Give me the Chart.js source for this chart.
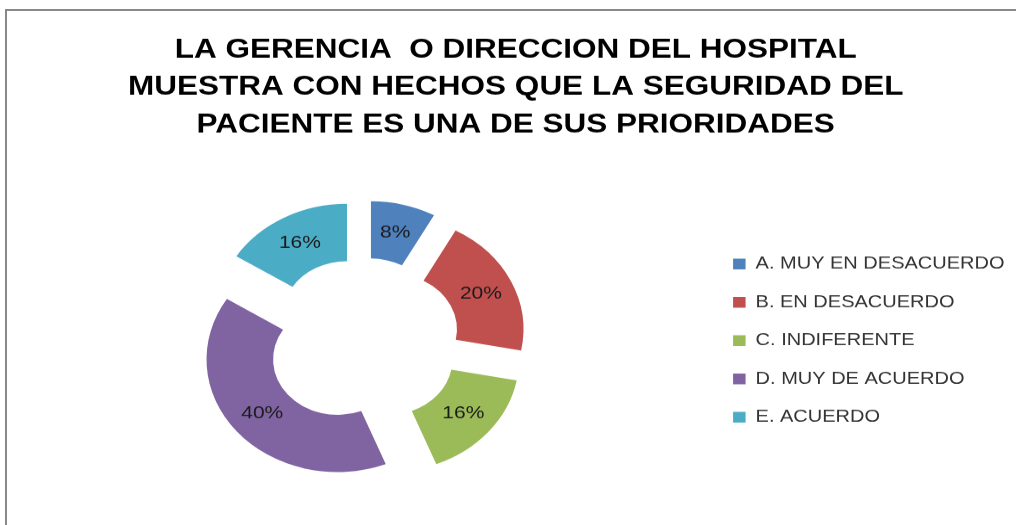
<!DOCTYPE html>
<html>
<head>
<meta charset="utf-8">
<script src="https://cdn.jsdelivr.net/npm/chart.js@4.4.1/dist/chart.umd.min.js"></script>
<style>
  html, body { margin: 0; padding: 0; background: #fff; overflow: hidden; }
  #frame {
    position: absolute; left: 5px; top: 9px; width: 1200px; height: 800px;
    border-left: 2px solid #898989; border-top: 2px solid #898989;
    pointer-events: none;
  }
</style>
</head>
<body>
<!-- the picture is squashed vertically, so the canvas is drawn taller and shrunk by its inline size -->
<canvas id="chart" width="1016" height="610" style="display:block;width:1016px;height:525px"></canvas>
<div id="frame"></div>
<script>
const titleLines = [
  'LA GERENCIA  O DIRECCION DEL HOSPITAL',
  'MUESTRA CON HECHOS QUE LA SEGURIDAD DEL',
  'PACIENTE ES UNA DE SUS PRIORIDADES'
];
const categories = [
  'A. MUY EN DESACUERDO',
  'B. EN DESACUERDO',
  'C. INDIFERENTE',
  'D. MUY DE ACUERDO',
  'E. ACUERDO'
];
const values = [8, 20, 16, 40, 16];
const colors = ['#4F81BD', '#C0504D', '#9BBB59', '#8064A2', '#4BACC6'];

const FONT = '"Liberation Sans", Arial, sans-serif';
const EXPLODE = 32.8; // how far each slice is pulled out

// draw each arc moved out along its middle angle, with its percent label
const explodedArcs = {
  id: 'explodedArcs',
  beforeDatasetsDraw(chart) {
    const ctx = chart.ctx;
    const total = values.reduce((a, b) => a + b, 0);
    chart.getDatasetMeta(0).data.forEach((arc, i) => {
      const half = (arc.startAngle + arc.endAngle) / 2;
      ctx.save();
      ctx.translate(Math.cos(half) * EXPLODE, Math.sin(half) * EXPLODE);
      arc.draw(ctx);
      const mid = (arc.innerRadius + arc.outerRadius) / 2;
      ctx.fillStyle = '#1a1a1a';
      ctx.font = '21px ' + FONT;
      ctx.textAlign = 'center';
      ctx.textBaseline = 'middle';
      ctx.fillText(Math.round(values[i] / total * 100) + '%',
        arc.x + Math.cos(half) * mid, arc.y + Math.sin(half) * mid);
      ctx.restore();
    });
    return false;
  }
};

new Chart(document.getElementById('chart'), {
  type: 'doughnut',
  data: {
    labels: categories,
    datasets: [{
      data: values,
      backgroundColor: colors,
      borderWidth: 0
    }]
  },
  options: {
    responsive: false,
    animation: false,
    events: [],
    radius: 131,
    cutout: '49.2%',
    layout: { padding: { left: 17, right: 1.5, top: 0, bottom: 0 } },
    plugins: {
      title: {
        display: true,
        text: titleLines,
        color: '#000',
        font: { family: FONT, size: 31.5, weight: 'bold', lineHeight: 1.384 },
        padding: { top: 36.3, bottom: 16.1 }
      },
      legend: {
        position: 'right',
        // empty title only pushes the items down to the middle of the ring
        title: { display: true, text: ' ', font: { size: 1, lineHeight: 1 }, padding: { top: 180.6, bottom: 0 } },
        labels: {
          boxWidth: 12.5,
          boxHeight: 12.5,
          padding: 24.5,
          color: '#333',
          font: { family: FONT, size: 20 }
        }
      },
      tooltip: { enabled: false }
    }
  },
  plugins: [explodedArcs]
});
</script>
</body>
</html>
